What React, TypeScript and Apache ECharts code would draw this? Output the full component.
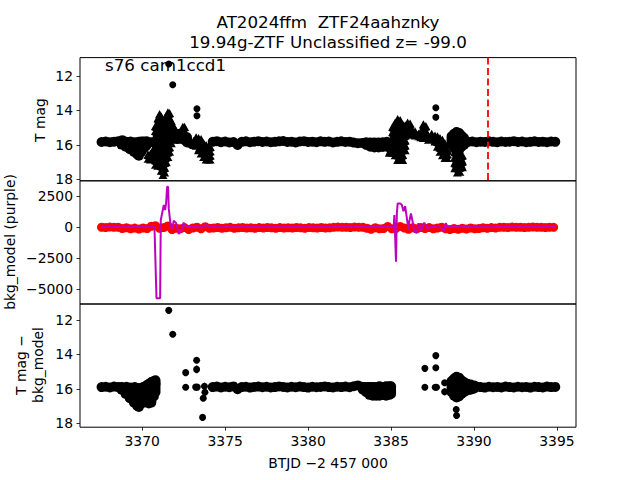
import React, { useEffect, useRef } from "react";
import * as echarts from "echarts";

const FONT = "DejaVu Sans";
const X_MIN = 3366.25;
const X_MAX = 3396.15;
const CADENCE = 0.25;
const xTicks = [3370, 3375, 3380, 3385, 3390, 3395];
const magTicks = [12, 14, 16, 18];
const bkgTicks = [-5000, -2500, 0, 2500];
const markerTime = 3390.85;

// ---- top panel: T mag ----
const topBandAStart = 3367.55;
const topBandA = [15.83, 15.8, 15.84, 15.81, 15.78, 15.72, 15.82, 15.8, 15.85, 15.82, 15.83, 15.8, 15.84];
const topBandBStart = 3374.25;
const topBandB = [
  15.82, 15.78, 15.84, 15.8, 15.85, 15.83, 16.0, 15.82, 15.79, 15.84,
  15.81, 15.78, 15.83, 15.8, 15.84, 15.82, 15.79, 15.77, 15.83, 15.81,
  15.85, 15.8, 15.78, 15.83, 15.81, 15.84, 15.79, 15.82, 15.8, 15.85,
  15.82, 15.79, 15.83, 15.81, 15.86, 15.9, 15.88, 15.85, 15.92, 15.88,
  15.9, 15.86, 15.82, 15.85,
];
const topBandCStart = 3389.4;
const topBandC = [
  15.85, 15.82, 15.8, 15.84, 15.81, 15.83, 15.79, 15.82, 15.84, 15.8,
  15.83, 15.81, 15.78, 15.83, 15.8, 15.84, 15.82, 15.79, 15.83, 15.81,
  15.84, 15.8, 15.82,
];
// [time, brightest mag, faintest mag] of stacked circle markers
const topCircleCols = [
  [3368.75, 15.85, 15.98], [3369.0, 15.85, 16.1], [3369.25, 15.85, 16.25], [3369.5, 15.85, 16.4],
  [3369.7, 15.85, 16.55], [3369.8, 15.85, 16.62], [3369.95, 15.8, 16.4], [3370.1, 15.8, 16.2],
  [3370.25, 15.8, 16.05],
  [3371.9, 15.35, 15.6], [3372.1, 15.4, 15.65], [3372.3, 15.35, 15.6], [3372.5, 15.45, 15.7],
  [3372.7, 15.55, 15.85],
  [3383.5, 15.85, 16.0], [3383.75, 15.85, 16.1], [3384.0, 15.85, 16.15], [3384.25, 15.85, 16.15],
  [3384.5, 15.85, 16.12], [3384.75, 15.85, 16.1],
  [3388.65, 15.5, 16.0], [3388.8, 15.35, 16.2], [3388.95, 15.25, 16.3], [3389.1, 15.3, 16.3],
  [3389.25, 15.45, 16.1], [3389.4, 15.6, 16.0],
];
// [time, brightest mag, faintest mag] of stacked triangle markers
const topTriangleCols = [
  [3370.35, 16.55, 16.8], [3370.5, 16.5, 16.85], [3370.65, 16.3, 16.8], [3370.8, 14.9, 17.15],
  [3370.95, 14.45, 17.2], [3371.05, 14.2, 17.15], [3371.15, 14.35, 17.5], [3371.25, 14.65, 17.75],
  [3371.35, 14.7, 17.6], [3371.45, 14.3, 17.0], [3371.55, 14.1, 16.7], [3371.65, 14.15, 16.4],
  [3371.75, 14.6, 15.9], [3371.85, 14.95, 15.65], [3371.95, 15.0, 15.6], [3372.05, 15.2, 15.7],
  [3372.2, 15.3, 15.6], [3372.3, 15.25, 15.65], [3372.45, 14.95, 15.6], [3372.55, 14.95, 15.6],
  [3372.65, 15.4, 15.7],
  [3372.95, 15.85, 15.95], [3373.1, 15.75, 16.0], [3373.25, 15.55, 16.05], [3373.4, 15.6, 16.3],
  [3373.55, 15.65, 16.5], [3373.7, 15.9, 16.7], [3373.85, 16.0, 16.85], [3374.0, 16.05, 16.85],
  [3374.1, 16.1, 16.85],
  [3384.9, 16.1, 16.45], [3385.1, 14.95, 16.45], [3385.25, 14.7, 16.6], [3385.4, 14.5, 16.87],
  [3385.55, 14.55, 16.87], [3385.7, 14.8, 16.87], [3385.85, 14.85, 16.3], [3386.0, 14.7, 15.4],
  [3386.15, 14.75, 15.3], [3386.3, 15.15, 15.4], [3386.45, 15.2, 15.45], [3386.65, 15.35, 15.5],
  [3386.8, 15.2, 15.55], [3386.95, 14.8, 15.6], [3387.1, 14.9, 15.6], [3387.25, 15.45, 15.7],
  [3387.45, 15.35, 15.65], [3387.65, 15.45, 15.8], [3387.8, 15.5, 16.1], [3387.95, 15.6, 16.4],
  [3388.1, 15.7, 16.6], [3388.25, 15.9, 16.75], [3388.4, 16.3, 16.75],
  [3388.85, 16.4, 17.35], [3389.0, 16.5, 17.6], [3389.15, 16.5, 17.55], [3389.3, 16.6, 17.3],
];
const topOutliers = [
  [3371.6, 11.3], [3371.84, 12.51], [3373.3, 13.9], [3373.3, 14.3], [3387.7, 13.84], [3387.7, 14.39],
];

// ---- middle panel: background ----
const redStart = 3367.55;
const redFlux = [
  -20, -40, -10, -30, -20,
  -120, -60, -150, -90, -160, -80, -130,
  60, 100,
  -100, -50, 80, -200, -100, -150, -50, -200, -80, -20, -150, 30, -100,
  -90, -40, -100, -60, -30, -110, -70, -40, -90, -60, -100, -50, -80, -40, -70, -100, -50, -80, -60,
  -90, -40, -70, -100, -50, -60, -90, -40, -80, -60,
  -30, -10, -30, -20, -40, -10, -30, -20,
  -100, -180, -60, -150, -120, 40, -150,
  -100, 50, -80, -180, -60, -150, -40, -120, -50, -150, -80, -20,
  -150, -200, -120, -180, -100, -160, -80, -140, -120, -60, -100, -50, -80,
  -30, -20, -40, -10, -30, -20, -40, -30, -10, -30, -20, -40, -20, -30,
];
const bkgModelTimes = [
  3367.55, 3370.74, 3370.86, 3371.08, 3371.12, 3371.3, 3371.38, 3371.44, 3371.5, 3371.56,
  3371.6, 3371.7, 3371.8, 3371.9, 3372.05, 3372.2, 3372.35, 3372.5, 3372.65, 3372.8,
  3373.1, 3373.3, 3373.6, 3373.9, 3374.1, 3374.3, 3385.16, 3385.2, 3385.3, 3385.35,
  3385.4, 3385.55, 3385.65, 3385.75, 3385.85, 3385.97, 3386.05, 3386.1, 3386.2, 3386.3,
  3386.4, 3386.55, 3386.65, 3386.8, 3387.0, 3387.2, 3387.4, 3387.7, 3388.0, 3388.2,
  3388.3, 3388.4, 3394.9,
];
const bkgModelValues = [
  0, 0, -5750, -5750, 565, 1774, 1370, 1900, 3250, 3250,
  1500, 300, -190, 510, 300, -560, -290, 350, -15, 90,
  -20, 0, -30, 160, -20, 0, 0, 970, -2800, 1100,
  1900, 1900, 1800, 1270, 1680, 560, -190, 430, 1100, 430,
  -380, -460, 300, -290, 350, -100, 30, 0, -20, -290,
  300, 0, 0,
];

// ---- bottom panel: T mag - bkg_model ----
const botBandAStart = 3367.55;
const botBandA = [15.9, 15.88, 15.92, 15.87, 15.9, 15.93, 15.88, 15.92, 15.9, 15.95, 15.9, 15.85, 15.8, 15.7];
const botBandBStart = 3374.25;
const botBandB = [
  15.9, 15.87, 15.92, 15.88, 15.91, 15.86, 16.02, 15.9, 15.88, 15.93,
  15.89, 15.87, 15.91, 15.88, 15.92, 15.9, 15.86, 15.89, 15.92, 15.88,
  15.91, 15.87, 15.9, 15.93, 15.88, 15.91, 15.89, 15.86, 15.9, 15.92,
  15.88, 15.9, 15.87, 15.91, 15.85, 15.8, 15.88, 15.92, 15.9, 15.93,
  15.95, 15.92, 15.94, 15.92,
];
const botBandCStart = 3389.4;
const botBandC = [
  15.9, 15.88, 15.92, 15.87, 15.9, 15.93, 15.88, 15.91, 15.89, 15.92,
  15.87, 15.9, 15.92, 15.88, 15.91, 15.89, 15.93, 15.88, 15.9, 15.92,
  15.87, 15.9, 15.89,
];
const botCircleCols = [
  [3368.75, 15.9, 16.05], [3369.0, 15.95, 16.3], [3369.25, 16.0, 16.55], [3369.5, 16.0, 16.8],
  [3369.7, 16.0, 17.0], [3369.8, 16.1, 17.05], [3369.95, 16.0, 16.85], [3370.1, 15.9, 16.8],
  [3370.25, 15.8, 16.75], [3370.4, 15.7, 16.85], [3370.55, 15.6, 16.8], [3370.7, 15.55, 16.45],
  [3370.8, 15.5, 16.2],
  [3383.3, 15.9, 16.05], [3383.5, 15.9, 16.2], [3383.7, 15.9, 16.35], [3383.9, 15.9, 16.4],
  [3384.1, 15.9, 16.4], [3384.3, 15.85, 16.4], [3384.5, 15.9, 16.35], [3384.7, 15.85, 16.4],
  [3384.9, 15.85, 16.35], [3385.0, 15.85, 16.3],
  [3388.65, 15.55, 16.2], [3388.8, 15.4, 16.4], [3388.95, 15.3, 16.5], [3389.1, 15.35, 16.45],
  [3389.25, 15.5, 16.3], [3389.4, 15.6, 16.2], [3389.6, 15.7, 16.1], [3389.8, 15.75, 16.05],
  [3390.0, 15.8, 16.0],
];
// [time, mag, error]
const botErrPoints = [
  [3371.6, 11.44, 0.05], [3371.84, 12.83, 0.05], [3372.62, 15.06, 0.2], [3372.62, 15.91, 0.05],
  [3373.22, 15.9, 0.05], [3373.32, 15.9, 0.05], [3373.28, 14.34, 0.1], [3373.28, 14.87, 0.22],
  [3373.75, 15.85, 0.2], [3373.78, 16.2, 0.25], [3373.68, 16.55, 0.1], [3373.64, 17.66, 0.05],
  [3387.04, 14.81, 0.15], [3387.04, 15.91, 0.05], [3387.66, 15.91, 0.05], [3387.74, 15.91, 0.05],
  [3387.7, 14.07, 0.05], [3387.7, 14.78, 0.15], [3388.23, 15.65, 0.15], [3388.23, 16.17, 0.2],
  [3388.93, 17.2, 0.2], [3388.95, 17.55, 0.2],
];

const cadenced = (start: number, vals: number[]) => vals.map((v, i) => [start + i * CADENCE, v]);

// a column of overlapping upward triangles: jagged top, flat bottom
function triangleCols(_p: any, api: any) {
  const t = api.value(0);
  const a = api.coord([t, api.value(1)]);
  const b = api.coord([t, api.value(2)]);
  const x = a[0];
  const y1 = Math.min(a[1], b[1]);
  const y2 = Math.max(a[1], b[1]);
  const w = 9, h = 8;
  const pts: number[][] = [[x, y1 - h / 2]];
  // right edge zigzag of stacked triangles
  const n = Math.max(1, Math.round((y2 - y1) / 5));
  for (let k = 0; k <= n; k++) {
    const yc = y1 + ((y2 - y1) * k) / n;
    pts.push([x + w / 2, yc + h / 2]);
    if (k < n) pts.push([x + w / 4, yc + h / 2 + 1]);
  }
  pts.push([x - w / 2, y2 + h / 2]);
  for (let k = n; k >= 0; k--) {
    const yc = y1 + ((y2 - y1) * k) / n;
    if (k < n) pts.push([x - w / 4, yc + h / 2 + 1]);
    pts.push([x - w / 2, yc + h / 2]);
  }
  return { type: "polygon", shape: { points: pts }, style: { fill: "#000" } };
}
function circleCols(_p: any, api: any) {
  const t = api.value(0);
  const a = api.coord([t, api.value(1)]);
  const b = api.coord([t, api.value(2)]);
  const y1 = Math.min(a[1], b[1]);
  const y2 = Math.max(a[1], b[1]);
  const r = 5;
  return {
    type: "rect",
    shape: { x: a[0] - r, y: y1 - r, width: 2 * r, height: y2 - y1 + 2 * r, r },
    style: { fill: "#000" },
  };
}
function errPoints(_p: any, api: any) {
  const t = api.value(0), m = api.value(1), e = api.value(2);
  const c = api.coord([t, m]);
  const lo = api.coord([t, m - e]);
  const hi = api.coord([t, m + e]);
  return {
    type: "group",
    children: [
      { type: "line", shape: { x1: c[0], y1: lo[1], x2: c[0], y2: hi[1] }, style: { stroke: "#000", lineWidth: 1.5 } },
      { type: "circle", shape: { cx: c[0], cy: c[1], r: 3.5 }, style: { fill: "#000" } },
    ],
  };
}

const minusFmt = (v: number) => (v < 0 ? "\u2212" + Math.abs(v) : String(v));

export default function App() {
  const ref = useRef<HTMLDivElement>(null);
  useEffect(() => {
    if (!ref.current) return;
    const chart = echarts.init(ref.current, undefined, { renderer: "svg" });
    const gridBase = { left: 80, width: 496, height: 123.2, show: true, borderColor: "#000", borderWidth: 1, backgroundColor: "transparent" };
    const tickStyle = { lineStyle: { color: "#000", width: 0.8 }, length: 3.5 };
    const labelStyle = { color: "#000", fontSize: 13.9, fontFamily: FONT, margin: 7 };
    const yAxis = (i: number, min: number, max: number, ticks: number[], inverse: boolean) => ({
      type: "value", gridIndex: i, min, max, inverse,
      splitLine: { show: false }, axisLine: { show: false },
      axisTick: { show: true, ...tickStyle, customValues: ticks },
      axisLabel: { show: true, ...labelStyle, customValues: ticks, formatter: minusFmt },
    });
    const xAxis = (i: number) => ({
      type: "value", gridIndex: i, min: X_MIN, max: X_MAX,
      splitLine: { show: false }, axisLine: { show: false },
      axisTick: i === 2 ? { show: true, ...tickStyle, customValues: xTicks } : { show: false },
      axisLabel: i === 2 ? { show: true, ...labelStyle, customValues: xTicks, formatter: (v: number) => String(v) } : { show: false },
    });
    const txt = (text: string, x: number, y: number, size: number, rot = 0, align = "center") => ({
      type: "text", x, y, rotation: rot, z: 100,
      style: { text, fontSize: size, fontFamily: FONT, fill: "#000", align, verticalAlign: "middle" },
    });
    const black = { color: "#000", opacity: 1 };
    chart.setOption({
      animation: false,
      backgroundColor: "#fff",
      grid: [
        { ...gridBase, top: 57.6 },
        { ...gridBase, top: 180.8 },
        { ...gridBase, top: 304 },
      ],
      xAxis: [xAxis(0), xAxis(1), xAxis(2)],
      yAxis: [
        yAxis(0, 10.93, 18.08, magTicks, true),
        yAxis(1, -6210, 3726, bkgTicks, false),
        yAxis(2, 11.07, 18.23, magTicks, true),
      ],
      series: [
        {
          type: "scatter", xAxisIndex: 0, yAxisIndex: 0, symbol: "circle", symbolSize: 10,
          itemStyle: black,
          data: [...cadenced(topBandAStart, topBandA), ...cadenced(topBandBStart, topBandB), ...cadenced(topBandCStart, topBandC)],
          markLine: {
            silent: true, symbol: ["none", "none"], label: { show: false },
            lineStyle: { color: "#ff0000", type: [7, 3.5], width: 1.8, opacity: 1 },
            data: [{ xAxis: markerTime }],
          },
        },
        { type: "custom", xAxisIndex: 0, yAxisIndex: 0, renderItem: circleCols, data: topCircleCols, clip: true },
        { type: "custom", xAxisIndex: 0, yAxisIndex: 0, renderItem: triangleCols, data: topTriangleCols, clip: true },
        {
          type: "scatter", xAxisIndex: 0, yAxisIndex: 0, symbol: "circle", symbolSize: 7,
          itemStyle: black, data: topOutliers,
        },
        {
          type: "scatter", xAxisIndex: 1, yAxisIndex: 1, symbol: "circle", symbolSize: 9, z: 2,
          itemStyle: { color: "#ff0000", opacity: 1 }, data: cadenced(redStart, redFlux),
        },
        {
          type: "line", xAxisIndex: 1, yAxisIndex: 1, showSymbol: false, z: 3,
          lineStyle: { color: "#bf00bf", width: 2 },
          data: bkgModelTimes.map((t, i) => [t, bkgModelValues[i]]),
        },
        {
          type: "scatter", xAxisIndex: 2, yAxisIndex: 2, symbol: "circle", symbolSize: 10,
          itemStyle: black,
          data: [...cadenced(botBandAStart, botBandA), ...cadenced(botBandBStart, botBandB), ...cadenced(botBandCStart, botBandC)],
        },
        { type: "custom", xAxisIndex: 2, yAxisIndex: 2, renderItem: circleCols, data: botCircleCols, clip: true },
        { type: "custom", xAxisIndex: 2, yAxisIndex: 2, renderItem: errPoints, data: botErrPoints, clip: true },
      ],
      graphic: [
        txt("AT2024ffm  ZTF24aahznky", 328, 21.5, 16.7),
        txt("19.94g-ZTF Unclassified z= -99.0", 328, 41.5, 16.7),
        txt("s76 cam1ccd1", 105, 64.5, 16.7, 0, "left"),
        txt("T mag", 40, 120, 13.9, Math.PI / 2),
        txt("bkg_model (purple)", 10, 242, 13.9, Math.PI / 2),
        txt("T mag \u2212", 21, 365, 13.9, Math.PI / 2),
        txt("bkg_model", 38, 365, 13.9, Math.PI / 2),
        txt("BTJD \u22122 457 000", 328, 463, 13.9),
      ],
    });
    return () => chart.dispose();
  }, []);
  return <div ref={ref} style={{ position: "fixed", left: 0, top: 0, width: 640, height: 480 }} />;
}
